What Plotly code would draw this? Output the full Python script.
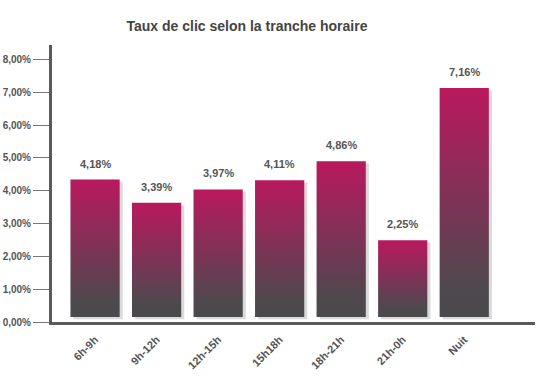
import plotly.graph_objects as go

categories = ["6h-9h", "9h-12h", "12h-15h", "15h18h", "18h-21h", "21h-0h", "Nuit"]
labels = ["4,18%", "3,39%", "3,97%", "4,11%", "4,86%", "2,25%", "7,16%"]
# bar tops as drawn in the picture (in % units)
bar_tops = [4.34, 3.63, 4.04, 4.32, 4.90, 2.49, 7.13]
bar_base = 0.15
tick_vals = [0, 1, 2, 3, 4, 5, 6, 7, 8]
tick_text = ["0,00%", "1,00%", "2,00%", "3,00%", "4,00%", "5,00%", "6,00%", "7,00%", "8,00%"]

half_w = 0.4
grad = [[0, "#4a494c"], [0.12, "#4d494d"], [0.5, "#7d3356"], [1, "#b9195e"]]

fig = go.Figure()
# shadows
for i, top in enumerate(bar_tops):
    dx, dy = 0.05, 0.07
    fig.add_trace(go.Scatter(
        x=[i - half_w + dx, i + half_w + dx, i + half_w + dx, i - half_w + dx, i - half_w + dx],
        y=[bar_base - dy, bar_base - dy, top - dy, top - dy, bar_base - dy],
        fill="toself", fillcolor="rgba(150,150,150,0.35)", mode="none",
        hoverinfo="skip", showlegend=False))
# bars
for i, top in enumerate(bar_tops):
    fig.add_trace(go.Scatter(
        x=[i - half_w, i + half_w, i + half_w, i - half_w, i - half_w],
        y=[bar_base, bar_base, top, top, bar_base],
        fill="toself", mode="none",
        fillgradient=dict(type="vertical", colorscale=grad),
        hoverinfo="skip", showlegend=False))

for i, (top, lab) in enumerate(zip(bar_tops, labels)):
    fig.add_annotation(x=i, y=top, text="<b>%s</b>" % lab, showarrow=False, yanchor="bottom", yshift=8,
                       font=dict(family="Liberation Sans, Arial", size=11, color="#555555"))

fig.update_layout(
    width=540, height=378,
    margin=dict(l=52, r=5, t=45, b=56, autoexpand=False),
    paper_bgcolor="white", plot_bgcolor="white",
    title=dict(text="<b>Taux de clic selon la tranche horaire</b>", x=247/540, xanchor="center",
               xref="container", yref="container",
               y=1 - 26/378, yanchor="middle", automargin=False,
               font=dict(family="Liberation Sans, Arial", size=14, color="#444444")),
    xaxis=dict(range=[-0.70, 7.15], tickmode="array", tickvals=list(range(len(categories))),
               ticktext=["<b>%s</b>" % c for c in categories], tickangle=-45, automargin=False,
               ticklabelstandoff=4,
               showline=True, linewidth=3, linecolor="#5a5a5a", showgrid=False, zeroline=False,
               ticks="", tickfont=dict(family="Liberation Sans, Arial", size=11, color="#555555")),
    yaxis=dict(range=[0, 8.44], tickmode="array", tickvals=tick_vals,
               ticktext=["<b>%s</b>" % t for t in tick_text], automargin=False,
               showline=True, linewidth=3, linecolor="#5a5a5a", showgrid=False, zeroline=False,
               ticks="outside", ticklen=16, tickwidth=1, tickcolor="#777777",
               tickfont=dict(family="Liberation Sans, Arial", size=10, color="#555555")),
)

fig.write_html("out.html", config={"displayModeBar": False},
               post_script="document.body.style.margin='0';document.body.style.overflow='hidden';")
